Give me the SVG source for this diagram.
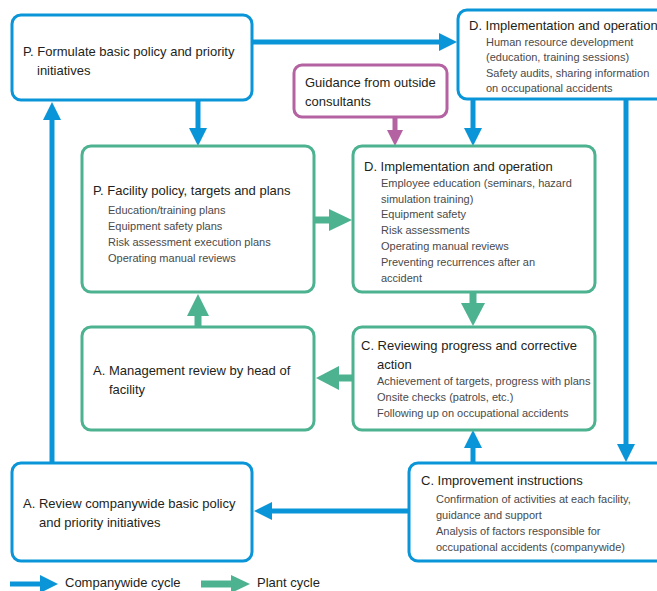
<svg xmlns="http://www.w3.org/2000/svg" width="657" height="591" viewBox="0 0 657 591">
<style>
.blue{fill:#fff;stroke:#0a95d8;stroke-width:3}
.green{fill:#fff;stroke:#4cb28f;stroke-width:3}
.purple{fill:#fff;stroke:#b462a2;stroke-width:3}
.bl{stroke:#0a95d8;stroke-width:5;fill:none}
.gl{stroke:#4cb28f;stroke-width:7;fill:none}
.pl{stroke:#b462a2;stroke-width:5;fill:none}
.bh{fill:#0a95d8}
.gh{fill:#4cb28f}
.ph{fill:#b462a2}
.t{font-family:"Liberation Sans",Arial,sans-serif;font-size:13px;fill:#231f20}
.s{font-family:"Liberation Sans",Arial,sans-serif;font-size:11px;fill:#4a4a4a}
</style>
<rect width="657" height="591" fill="#fff"/>
<g id="connectors">
<path class="bl" d="M252 42H440"/><polygon class="bh" points="457,42 439,33 439,51"/>
<path class="bl" d="M198 100V130"/><polygon class="bh" points="198,146 189,128 207,128"/>
<path class="bl" d="M52 462V118"/><polygon class="bh" points="52,102 43,120 61,120"/>
<path class="pl" d="M395 117V132"/><polygon class="ph" points="395,146 387,130 403,130"/>
<path class="bl" d="M473 100V130"/><polygon class="bh" points="473,146 464,128 482,128"/>
<path class="bl" d="M626 100V446"/><polygon class="bh" points="626,462 617,444 635,444"/>
<path class="gl" d="M314 220H332"/><polygon class="gh" points="352,220 329,209 329,231"/>
<path class="gl" d="M473 292V306"/><polygon class="gh" points="473,326 461,303 485,303"/>
<path class="gl" d="M198 327V314"/><polygon class="gh" points="198,294 187,316 209,316"/>
<path class="gl" d="M353 378H336"/><polygon class="gh" points="316,378 339,366 339,390"/>
<path class="bl" d="M473 462V446"/><polygon class="bh" points="473,430 464,448 482,448"/>
<path class="bl" d="M409 511H270"/><polygon class="bh" points="254,511 272,502 272,520"/>
</g>
<g id="p-company">
<rect class="blue" x="12" y="15" width="240" height="85" rx="9"/>
<text class="t" x="23" y="56">P. Formulate basic policy and priority</text>
<text class="t" x="37" y="75">initiatives</text>
</g>
<g id="d-company">
<rect class="blue" x="458" y="10" width="215" height="89" rx="9"/>
<text class="t" x="469" y="30">D. Implementation and operation</text>
<text class="s" x="486" y="46">Human resource development</text>
<text class="s" x="486" y="61">(education, training sessions)</text>
<text class="s" x="486" y="77">Safety audits, sharing information</text>
<text class="s" x="486" y="92">on occupational accidents</text>
</g>
<g id="guidance">
<rect class="purple" x="294" y="65" width="153" height="52" rx="8"/>
<text class="t" x="305" y="87">Guidance from outside</text>
<text class="t" x="305" y="106">consultants</text>
</g>
<g id="p-plant">
<rect class="green" x="82" y="146" width="232" height="146" rx="9"/>
<text class="t" x="93" y="195">P. Facility policy, targets and plans</text>
<text class="s" x="108" y="214">Education/training plans</text>
<text class="s" x="108" y="230">Equipment safety plans</text>
<text class="s" x="108" y="246">Risk assessment execution plans</text>
<text class="s" x="108" y="262">Operating manual reviews</text>
</g>
<g id="d-plant">
<rect class="green" x="353" y="146" width="242" height="146" rx="9"/>
<text class="t" x="364" y="171">D. Implementation and operation</text>
<text class="s" x="381" y="187">Employee education (seminars, hazard</text>
<text class="s" x="381" y="203">simulation training)</text>
<text class="s" x="381" y="218">Equipment safety</text>
<text class="s" x="381" y="234">Risk assessments</text>
<text class="s" x="381" y="250">Operating manual reviews</text>
<text class="s" x="381" y="266">Preventing recurrences after an</text>
<text class="s" x="381" y="282">accident</text>
</g>
<g id="a-plant">
<rect class="green" x="82" y="327" width="232" height="103" rx="9"/>
<text class="t" x="93" y="375">A. Management review by head of</text>
<text class="t" x="109" y="394">facility</text>
</g>
<g id="c-plant">
<rect class="green" x="353" y="327" width="242" height="103" rx="9"/>
<text class="t" x="361" y="350">C. Reviewing progress and corrective</text>
<text class="t" x="377" y="369">action</text>
<text class="s" x="377" y="385">Achievement of targets, progress with plans</text>
<text class="s" x="377" y="401">Onsite checks (patrols, etc.)</text>
<text class="s" x="377" y="417">Following up on occupational accidents</text>
</g>
<g id="c-company">
<rect class="blue" x="409" y="463" width="264" height="98" rx="9"/>
<text class="t" x="421" y="485">C. Improvement instructions</text>
<text class="s" x="436" y="503">Confirmation of activities at each facility,</text>
<text class="s" x="436" y="519">guidance and support</text>
<text class="s" x="436" y="535">Analysis of factors responsible for</text>
<text class="s" x="436" y="551">occupational accidents (companywide)</text>
</g>
<g id="a-company">
<rect class="blue" x="12" y="463" width="240" height="98" rx="9"/>
<text class="t" x="23" y="508">A. Review companywide basic policy</text>
<text class="t" x="39" y="527">and priority initiatives</text>
</g>
<g id="legend">
<path class="bl" d="M10 584H42"/><polygon class="bh" points="58,584 40,575 40,593"/>
<text class="t" x="65" y="587">Companywide cycle</text>
<path class="gl" d="M201 584H233"/><polygon class="gh" points="250,584 231,575 231,593"/>
<text class="t" x="257" y="587">Plant cycle</text>
</g>
</svg>
